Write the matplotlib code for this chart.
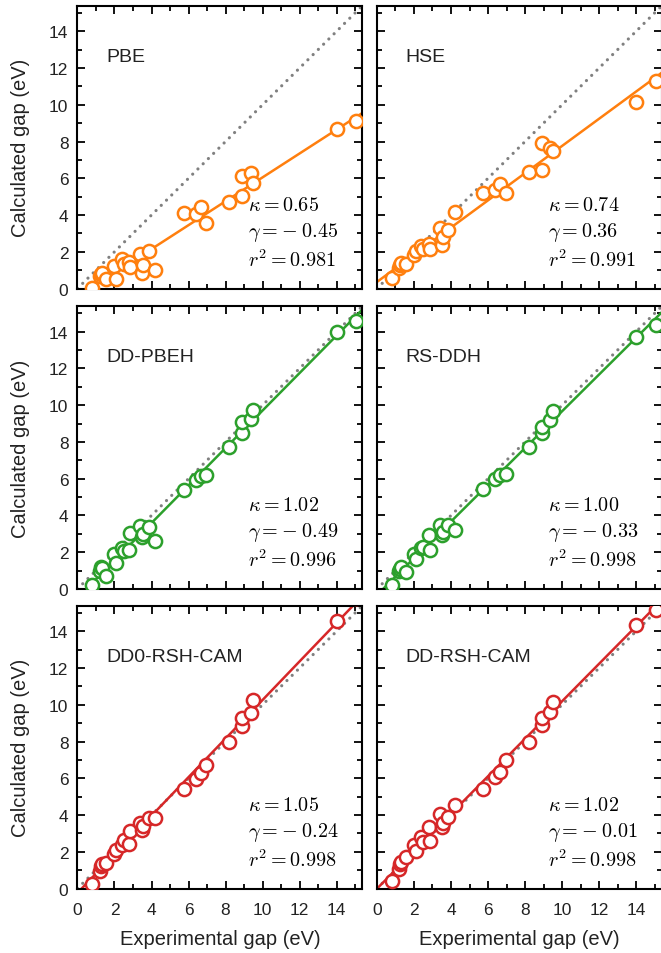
import numpy as np
import matplotlib
matplotlib.use('Agg')
import matplotlib.pyplot as plt

# Experimental gaps (eV), shared by all panels
exp_gap = [0.8, 1.2, 1.25, 1.3, 1.55, 2.0, 2.1, 2.4, 2.5, 2.8, 2.85, 3.4, 3.5, 3.55,
           3.85, 4.2, 5.75, 6.4, 6.65, 6.95, 8.2, 8.9, 8.9, 9.35, 9.5, 14.0, 15.05]

# Calculated gaps (eV) per method
pbe = [0.05, 0.68, 0.8, 0.86, 0.54, 1.21, 0.5, 1.6, 1.34, 1.45, 1.16, 1.9, 0.86, 1.27,
       2.07, 1.0, 4.13, 4.07, 4.43, 3.54, 4.71, 5.05, 6.13, 6.27, 5.77, 8.7, 9.1]
hse = [0.59, 1.13, 1.3, 1.4, 1.31, 1.85, 2.03, 2.3, 2.15, 2.42, 2.15, 3.32, 2.39, 2.8,
       3.2, 4.17, 5.22, 5.39, 5.71, 5.21, 6.34, 6.43, 7.9, 7.65, 7.5, 10.16, 11.27]
dd_pbeh = [0.2, 0.95, 1.2, 1.16, 0.71, 1.88, 1.39, 2.23, 2.05, 2.1, 3.07, 3.43, 2.82, 3.0,
           3.36, 2.59, 5.41, 5.93, 6.14, 6.21, 7.71, 8.48, 9.11, 9.25, 9.73, 14.0, 14.6]
rs_ddh = [0.22, 0.99, 1.1, 1.17, 0.9, 1.89, 1.62, 2.24, 2.3, 2.96, 2.12, 3.5, 2.96, 3.1,
          3.5, 3.23, 5.44, 5.98, 6.19, 6.25, 7.72, 8.47, 8.83, 9.21, 9.69, 13.73, 14.36]
dd0_rsh_cam = [0.25, 0.97, 1.24, 1.35, 1.38, 1.89, 2.1, 2.37, 2.64, 2.42, 3.14, 3.59, 3.18,
               3.4, 3.84, 3.84, 5.42, 5.96, 6.27, 6.73, 7.97, 8.83, 9.28, 9.55, 10.27, 14.54, 15.8]
dd_rsh_cam = [0.41, 1.08, 1.35, 1.47, 1.71, 2.37, 2.06, 2.78, 2.51, 3.37, 2.6, 4.08, 3.37,
              3.59, 3.9, 4.52, 5.44, 6.05, 6.32, 6.97, 7.95, 8.89, 9.28, 9.61, 10.14, 14.33, 15.17]

methods = ["PBE", "HSE", "DD-PBEH", "RS-DDH", "DD0-RSH-CAM", "DD-RSH-CAM"]
calc_gaps = [pbe, hse, dd_pbeh, rs_ddh, dd0_rsh_cam, dd_rsh_cam]
kappa = [0.65, 0.74, 1.02, 1.00, 1.05, 1.02]
gamma = [-0.45, 0.36, -0.49, -0.33, -0.24, -0.01]
r2 = [0.981, 0.991, 0.996, 0.998, 0.998, 0.998]
colors = ['#ff7f0e', '#ff7f0e', '#2ca02c', '#2ca02c', '#d62728', '#d62728']

plt.rcParams['font.family'] = ['Liberation Sans', 'DejaVu Sans']
plt.rcParams['mathtext.fontset'] = 'cm'

fig = plt.figure(figsize=(6.61, 9.54), dpi=100)

lim = (0, 15.4)
lefts = [0.1172, 0.5703]
bottoms = [0.6965, 0.3816, 0.0676]
w, h = 0.4312, 0.2966

for i, name in enumerate(methods):
    row, col = divmod(i, 2)
    ax = fig.add_axes([lefts[col], bottoms[row], w, h])
    xs = np.array(lim)

    # identity line and linear fit
    ax.plot(xs, xs, linestyle=(0, (0.01, 2.3)), color='#808080', lw=2.3,
            dash_capstyle='round', zorder=1)
    ax.plot(xs, kappa[i] * xs + gamma[i], color=colors[i], lw=1.8, zorder=2)
    ax.plot(exp_gap, calc_gaps[i], 'o', ms=9.5, mfc='white', mec=colors[i],
            mew=1.8, zorder=3)

    ax.set_xlim(lim)
    ax.set_ylim(lim)
    ax.set_xticks(range(0, 15, 2))
    ax.set_yticks(range(0, 15, 2))
    ax.set_xticks(range(0, 16), minor=True)
    ax.set_yticks(range(0, 16), minor=True)
    ax.tick_params(which='both', direction='in', top=True, right=True,
                   width=1.3, labelsize=12.5, labelcolor='#222222')
    ax.tick_params(axis='y', which='both', pad=6.5)
    ax.tick_params(axis='x', which='both', pad=10)
    ax.tick_params(which='major', length=5.5)
    ax.tick_params(which='minor', length=3.5)
    for sp in ax.spines.values():
        sp.set_linewidth(1.5)

    if col == 1:
        ax.tick_params(labelleft=False)
    else:
        ax.set_ylabel("Calculated gap (eV)", fontsize=14.5, labelpad=14,
                      color='#222222')
    if row < 2:
        ax.tick_params(labelbottom=False)
    else:
        ax.set_xlabel("Experimental gap (eV)", fontsize=14.5, labelpad=8,
                      color='#222222')

    ax.text(0.1, 0.82, name, transform=ax.transAxes, fontsize=14,
            va='center', ha='left', color='#222222')

    g = gamma[i]
    gtxt = r"$\gamma = -\;%.2f$" % abs(g) if g < 0 else r"$\gamma = %.2f$" % g
    ax.text(0.6, 0.298, r"$\kappa = %.2f$" % kappa[i], transform=ax.transAxes,
            fontsize=14.5, va='center', ha='left')
    ax.text(0.6, 0.203, gtxt, transform=ax.transAxes,
            fontsize=14.5, va='center', ha='left')
    ax.text(0.6, 0.104, r"$r^2 = %.3f$" % r2[i], transform=ax.transAxes,
            fontsize=14.5, va='center', ha='left')

fig.savefig("out.png", dpi=100)
